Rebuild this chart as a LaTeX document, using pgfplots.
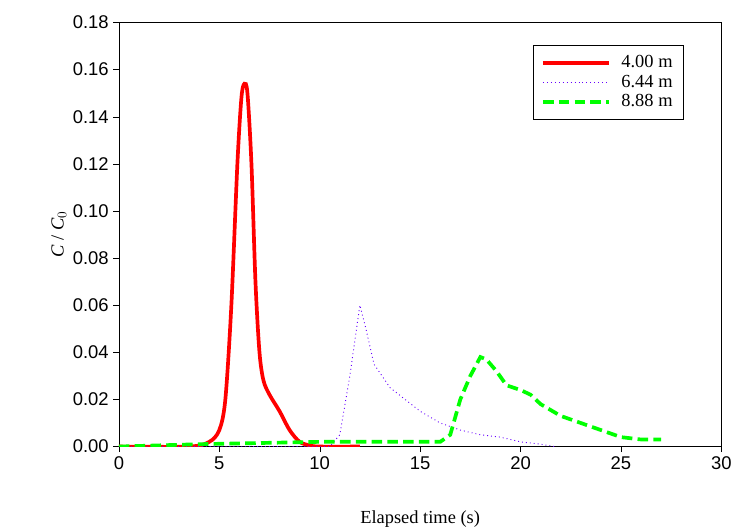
\documentclass[border=0pt]{standalone}
\usepackage{pgfplots}
\pgfplotsset{compat=1.18}
\usepackage{fontspec}
\setmainfont{Liberation Serif}
\newfontfamily\arial{Liberation Sans}
\begin{document}
\begin{tikzpicture}
\path (-90bp,-59bp) rectangle (462bp,338bp);
\begin{axis}[scale only axis, width=456bp, height=321bp,
 xmin=0,xmax=30,ymin=0,ymax=0.18,
 xtick={0,5,...,30}, ytick={0,0.02,...,0.18},
 tick align=outside, axis line style={black}, tick style={black},
 xtick pos=bottom, ytick pos=left,
 ticklabel style={font=\arial\fontsize{14}{16}\selectfont},
 /pgf/number format/assume math mode=true,
 yticklabel style={/pgf/number format/.cd,fixed,fixed zerofill,precision=2},
 xlabel={Elapsed time (s)}, ylabel={\textit{C} / \textit{C}$_0$},
 label style={font=\fontsize{14}{16}\selectfont},
 xlabel style={yshift=-24bp},
 ylabel style={yshift=-2bp},
 legend style={at={(0.937,0.947)},anchor=north east,draw=black,font=\fontsize{14}{19}\selectfont,inner xsep=6pt,inner ysep=6pt,
   /tikz/every odd column/.append style={column sep=6pt}},
 legend image code/.code={\draw[#1] (0bp,0bp) -- (50bp,0bp);},
 legend cell align=left]
\addplot[red, line width=2.8pt, smooth] coordinates {(0,0)(3.5,0)(4.5,0.002)(5,0.007)(5.3,0.02)(5.6,0.06)(5.9,0.12)(6.1,0.148)(6.25,0.154)(6.4,0.15)(6.6,0.12)(6.8,0.07)(7.0,0.04)(7.2,0.028)(7.5,0.022)(8,0.015)(8.5,0.007)(9,0.002)(9.5,0.0005)(10,0)(12,0)};
\addlegendentry{4.00 m}
\addplot[blue!60!magenta, dash pattern=on 0.7pt off 2.3pt, line width=0.7pt] coordinates {(0,0)(10.5,0)(11,0.005)(11.5,0.03)(12,0.06)(12.3,0.05)(12.7,0.035)(13.5,0.025)(15,0.015)(16,0.01)(17,0.007)(18,0.005)(19,0.004)(20,0.002)(21,0.001)(21.7,0)};
\addlegendentry{6.44 m}
\addplot[green, dash pattern=on 8pt off 4pt, line width=2.8pt] coordinates {(0,0)(4,0.001)(10,0.002)(16,0.002)(16.5,0.005)(17,0.02)(17.5,0.03)(18,0.038)(18.3,0.037)(18.8,0.032)(19.3,0.026)(20,0.024)(20.5,0.022)(21,0.018)(22,0.013)(23,0.01)(24,0.007)(25,0.004)(26,0.003)(27,0.003)};
\addlegendentry{8.88 m}
\end{axis}
\end{tikzpicture}
\end{document}
